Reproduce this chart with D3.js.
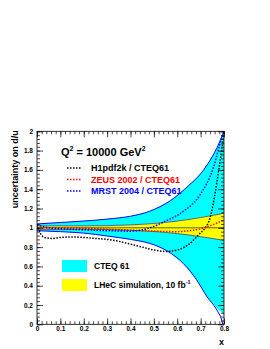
<!DOCTYPE html>
<html><head><meta charset="utf-8">
<script src="https://cdn.jsdelivr.net/npm/d3@7"></script>
<style>
body{margin:0;background:#fff}
svg{display:block}
text{font-family:"Liberation Sans",Arial,Helvetica,sans-serif;font-weight:bold}
</style>
</head><body>
<svg id="c" width="270" height="349"></svg>
<script>
// ---- data ----
const cteqUpper = [[0,1.04],[0.1,1.055],[0.2,1.07],[0.3,1.09],[0.4,1.12],[0.48,1.17],[0.57,1.28],[0.65,1.44],[0.7,1.56],[0.73,1.66],[0.77,1.83],[0.8,2.0]];
const cteqLower = [[0,0.97],[0.1,0.96],[0.2,0.945],[0.3,0.915],[0.4,0.88],[0.48,0.84],[0.505,0.82],[0.57,0.74],[0.626,0.63],[0.683,0.46],[0.726,0.29],[0.75,0.22],[0.77,0.17],[0.8,0.1]];
const cteqLowerEdge = [[0,0.97],[0.1,0.96],[0.2,0.945],[0.3,0.915],[0.4,0.88],[0.48,0.84],[0.505,0.82],[0.57,0.74],[0.626,0.63],[0.683,0.46],[0.726,0.29],[0.769,0.15],[0.79,0.045],[0.795,0]];
const lhecUpper = [[0,1.02],[0.2,1.02],[0.4,1.03],[0.6,1.07],[0.8,1.15]];
const lhecLower = [[0,0.98],[0.2,0.985],[0.4,0.975],[0.6,0.94],[0.8,0.87]];
const lhecCentral = [[0,1.0],[0.8,1.0]];
const h1 = [[0,1.03],[0.01,0.97],[0.02,0.92],[0.04,0.895],[0.07,0.89],[0.1,0.9],[0.15,0.905],[0.2,0.9],[0.25,0.89],[0.3,0.88],[0.35,0.86],[0.4,0.83],[0.45,0.8],[0.5,0.77],[0.55,0.755],[0.6,0.77],[0.65,0.83],[0.7,0.95],[0.72,1.0],[0.74,1.1],[0.76,1.33],[0.78,1.64],[0.8,1.98]];
const zeus = [[0,1.0],[0.1,1.0],[0.2,0.995],[0.3,0.985],[0.4,0.975],[0.5,0.965],[0.6,0.96],[0.65,0.97],[0.7,0.99],[0.75,1.03],[0.8,1.08]];
const mrst = [[0,1.03],[0.05,1.0],[0.1,0.99],[0.2,0.98],[0.3,0.97],[0.4,0.965],[0.45,0.98],[0.483,1.0],[0.55,1.07],[0.626,1.17],[0.697,1.34],[0.754,1.62],[0.79,1.93],[0.8,2.0]];
const legendLines = ["H1pdf2k / CTEQ61","ZEUS 2002 / CTEQ61","MRST 2004 / CTEQ61"];
const legendColors = ["#000000","#ff0000","#0000ff"];
const xMajor = [0,0.1,0.2,0.3,0.4,0.5,0.6,0.7,0.8];
const yMajor = [0,0.2,0.4,0.6,0.8,1,1.2,1.4,1.6,1.8,2];

// ---- chart ----
const svg = d3.select("#c");
const L=37, R=224, T=131.3, B=324.3;
const x = d3.scaleLinear().domain([0,0.8]).range([L,R]);
const y = d3.scaleLinear().domain([0,2]).range([B,T]);
svg.append("defs").append("clipPath").attr("id","pc").append("rect")
  .attr("x",L).attr("y",T).attr("width",R-L).attr("height",B-T);
const g = svg.append("g").attr("clip-path","url(#pc)");

function band(up, lo){
  const pts = up.concat(lo.slice().reverse());
  return d3.line().x(d=>x(d[0])).y(d=>y(d[1]))(pts)+"Z";
}
const line = d3.line().x(d=>x(d[0])).y(d=>y(d[1])).curve(d3.curveMonotoneX);

g.append("path").attr("d",band(cteqUpper,cteqLower)).attr("fill","#00ffff");
g.append("path").attr("d",band(lhecUpper,lhecLower)).attr("fill","#ffff00");
[lhecUpper,lhecLower].forEach(s=>g.append("path").attr("d",line(s)).attr("fill","none").attr("stroke","#3a3a9a").attr("stroke-width",0.8));
g.append("path").attr("d",line(lhecCentral)).attr("fill","none").attr("stroke","#333").attr("stroke-width",0.8);
[cteqUpper,cteqLowerEdge].forEach(s=>g.append("path").attr("d",line(s)).attr("fill","none").attr("stroke","#0000ff").attr("stroke-width",1));

[[h1,"#000"],[zeus,"#ff0000"],[mrst,"#0000ff"]].forEach(([s,c])=>{
  g.append("path").attr("d",line(s)).attr("fill","none").attr("stroke",c)
   .attr("stroke-width",1.5).attr("stroke-dasharray","1.5,1.5");
});

// axes (ticks inside, all four sides)
const xMinor = d3.range(0,0.8001,0.02);
const yMinor = d3.range(0,2.0001,0.04);
function axis(gen, scale, vals, size, fmt){ return gen(scale).tickValues(vals).tickSize(size).tickSizeOuter(0).tickFormat(fmt); }
const fmt = d=> d===0?"0":String(+d.toFixed(1));
const none = ()=>"";
function styleAx(sel){ sel.select(".domain").remove(); sel.selectAll("line").attr("stroke","#000").attr("stroke-width",0.7); sel.selectAll("text").attr("font-size",6.5).attr("fill","#000").attr("font-family","Liberation Sans, Arial, sans-serif").attr("font-weight","bold"); }

let a;
a = svg.append("g").attr("transform",`translate(0,${B})`).call(axis(d3.axisBottom,x,xMinor,-3,none)); styleAx(a);
a = svg.append("g").attr("transform",`translate(0,${B})`).call(axis(d3.axisBottom,x,xMajor,-6,fmt).tickPadding(2)); styleAx(a);
a = svg.append("g").attr("transform",`translate(0,${T})`).call(axis(d3.axisTop,x,xMinor,-3,none)); styleAx(a);
a = svg.append("g").attr("transform",`translate(0,${T})`).call(axis(d3.axisTop,x,xMajor,-6,none)); styleAx(a);
a = svg.append("g").attr("transform",`translate(${L},0)`).call(axis(d3.axisLeft,y,yMinor,-3,none)); styleAx(a);
a = svg.append("g").attr("transform",`translate(${L},0)`).call(axis(d3.axisLeft,y,yMajor,-6,fmt).tickPadding(4)); styleAx(a);
a = svg.append("g").attr("transform",`translate(${R},0)`).call(axis(d3.axisRight,y,yMinor,-3,none)); styleAx(a);
a = svg.append("g").attr("transform",`translate(${R},0)`).call(axis(d3.axisRight,y,yMajor,-6,none)); styleAx(a);

svg.append("rect").attr("x",L).attr("y",T).attr("width",R-L).attr("height",B-T)
  .attr("fill","none").attr("stroke","#000").attr("stroke-width",0.8);

// axis titles
svg.append("text").attr("x",R).attr("y",345).attr("text-anchor","end").attr("font-size",9).text("x");
svg.append("text").attr("transform",`translate(18,${T-1}) rotate(-90)`).attr("text-anchor","end").attr("font-size",9).text("uncertainty on d/u");

// title
const tt = svg.append("text").attr("x",61).attr("y",156).attr("font-size",11);
tt.append("tspan").text("Q");
tt.append("tspan").attr("dy",-5).attr("font-size",7).text("2");
tt.append("tspan").attr("dy",5).text(" = 10000 GeV");
tt.append("tspan").attr("dy",-5).attr("font-size",7).text("2");

// legend: lines
const ly = [168,179.5,191];
legendLines.forEach((t,i)=>{
  svg.append("line").attr("x1",67).attr("x2",82).attr("y1",ly[i]).attr("y2",ly[i])
    .attr("stroke",legendColors[i]).attr("stroke-width",1.5).attr("stroke-dasharray","1.5,1.5");
  svg.append("text").attr("x",91).attr("y",ly[i]+3).attr("font-size",9).attr("fill",legendColors[i]).text(t);
});
// legend: boxes
svg.append("rect").attr("x",62).attr("y",260).attr("width",25).attr("height",12).attr("fill","#00ffff");
svg.append("text").attr("x",94).attr("y",269).attr("font-size",8.5).text("CTEQ 61");
svg.append("rect").attr("x",62).attr("y",279).attr("width",25).attr("height",12).attr("fill","#ffff00");
const lt = svg.append("text").attr("x",94).attr("y",288).attr("font-size",8.5);
lt.append("tspan").text("LHeC simulation, 10 fb");
lt.append("tspan").attr("dy",-4).attr("font-size",5.5).text("-1");
</script>
</body></html>
